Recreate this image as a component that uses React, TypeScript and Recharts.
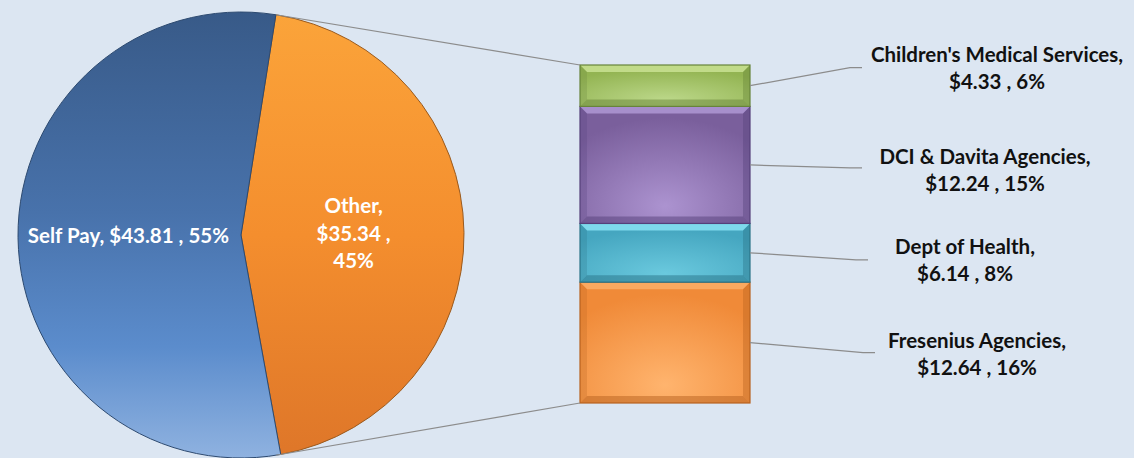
import React from 'react';
import { PieChart, Pie, Cell, BarChart, Bar, XAxis, YAxis } from 'recharts';

// ---------- data ----------
const pieNames = ['Other', 'Self Pay'];
const pieValues = [35.34, 43.81];
const piePercents = ['45%', '55%'];

const barNames = ['Fresenius Agencies', 'Dept of Health', 'DCI & Davita Agencies', "Children's Medical Services"];
const barValues = [12.64, 6.14, 12.24, 4.33];
const barPercents = ['16%', '8%', '15%', '6%'];

// ---------- layout / style ----------
const W = 1134;
const H = 458;
const BG = '#dce6f2';
const FONT = 'Lato, "Liberation Sans", sans-serif';
const FS = 20.5;
const PIE_CX = 241;
const PIE_CY = 235;
const PIE_R = 223;
const PIE_START = 81;

const barColors = [
  { base: '#f08a38', light: '#fdb06a', dark: '#b8621f', hi: '#ffb46e' },
  { base: '#45a6c0', light: '#8ce6f6', dark: '#2a7488', hi: '#6ac9de' },
  { base: '#7a5f9c', light: '#b39bd8', dark: '#55407a', hi: '#ac93d0' },
  { base: '#93b452', light: '#cde597', dark: '#67843a', hi: '#bcd88a' },
];

// label placement relative to the right edge / vertical middle of each segment
const labelLayout = [
  { lineDx: 125, lineDy: 10, textDx: 227, textDy: -2 },
  { lineDx: 118, lineDy: 7, textDx: 215, textDy: -6 },
  { lineDx: 112, lineDy: 3, textDx: 235, textDy: -8 },
  { lineDx: 112, lineDy: -18, textDx: 247, textDy: -31 },
];

const pieData = pieNames.map((name, i) => ({ name, value: pieValues[i], pct: piePercents[i] }));
const barRow: Record<string, any> = { cat: 'Other' };
barNames.forEach((_, i) => (barRow['s' + i] = barValues[i]));
const barData = [barRow];
const barTotal = barValues.reduce((a, b) => a + b, 0);

const RAD = Math.PI / 180;
const pieEdge = (angleDeg: number) => ({
  x: PIE_CX + PIE_R * Math.cos(angleDeg * RAD),
  y: PIE_CY - PIE_R * Math.sin(angleDeg * RAD),
});

const renderPieLabel = (props: any) => {
  const { cx, cy, midAngle, outerRadius, index } = props;
  const d = pieData[index];
  const r = outerRadius * 0.505;
  const x = cx + r * Math.cos(-midAngle * RAD);
  const y = cy + r * Math.sin(-midAngle * RAD);
  const lines = d.name === 'Other'
    ? [`${d.name},`, `$${d.value} ,`, d.pct]
    : [`${d.name}, $${d.value} , ${d.pct}`];
  const lh = 27.5;
  const y0 = y - ((lines.length - 1) * lh) / 2 + 7;
  return (
    <text key={'pl' + index} x={x} y={y0} textAnchor="middle" fill="#ffffff" fontFamily={FONT}
      fontWeight={700} fontSize={FS}>
      {lines.map((l, k) => (
        <tspan key={k} x={x} y={y0 + k * lh}>{l}</tspan>
      ))}
    </text>
  );
};

const makeBarShape = (i: number) => (props: any) => {
  const { x, y, width, height } = props;
  const c = barColors[i];
  const b = 7;
  return (
    <g>
      <rect x={x} y={y} width={width} height={height} fill={`url(#barFill${i})`} />
      <polygon points={`${x},${y} ${x + width},${y} ${x + width - b},${y + b} ${x + b},${y + b}`} fill={c.light} opacity={0.8} />
      <polygon points={`${x},${y + height} ${x + width},${y + height} ${x + width - b},${y + height - b} ${x + b},${y + height - b}`} fill={c.dark} opacity={0.5} />
      <polygon points={`${x},${y} ${x + b},${y + b} ${x + b},${y + height - b} ${x},${y + height}`} fill={c.dark} opacity={0.25} />
      <polygon points={`${x + width},${y} ${x + width - b},${y + b} ${x + width - b},${y + height - b} ${x + width},${y + height}`} fill={c.dark} opacity={0.4} />
      <rect x={x} y={y} width={width} height={height} fill="none" stroke={c.dark} strokeWidth={1.2} />
    </g>
  );
};

const makeBarLabel = (i: number) => (props: any) => {
  const { x, y, width, height } = props;
  const L = labelLayout[i];
  const sx = x + width;
  const sy = y + height / 2;
  const ex = sx + L.lineDx;
  const ey = sy + L.lineDy;
  const tx = sx + L.textDx;
  const ty = sy + L.textDy + 7;
  const lines = [`${barNames[i]},`, `$${barValues[i]} , ${barPercents[i]}`];
  const pieTop = pieEdge(PIE_START);
  const pieBottom = pieEdge(-PIE_START);
  return (
    <g key={'bl' + i}>
      <polyline points={`${sx},${sy} ${ex - 12},${ey} ${ex},${ey}`} fill="none" stroke="#8c8c8c" strokeWidth={1.2} />
      {i === barNames.length - 1 && (
        <line x1={pieTop.x} y1={pieTop.y} x2={x} y2={y} stroke="#8c8c8c" strokeWidth={1.2} />
      )}
      {i === 0 && (
        <line x1={pieBottom.x} y1={pieBottom.y} x2={x} y2={y + height} stroke="#8c8c8c" strokeWidth={1.2} />
      )}
      <text x={tx} y={ty} textAnchor="middle" fill="#111111" fontFamily={FONT} fontWeight={700} fontSize={FS}>
        {lines.map((l, k) => (
          <tspan key={k} x={tx} y={ty + k * 27}>{l}</tspan>
        ))}
      </text>
    </g>
  );
};

export default function App() {
  return (
    <div style={{ position: 'absolute', left: 0, top: 0, width: W, height: H, background: BG, overflow: 'hidden' }}>
      <div style={{ position: 'absolute', left: 0, top: 0 }}>
        <PieChart width={W} height={H} margin={{ top: 0, right: 0, bottom: 0, left: 0 }}>
          <defs>
            <linearGradient id="pieBlue" x1="0" y1={PIE_CY - PIE_R} x2="0" y2={PIE_CY + PIE_R} gradientUnits="userSpaceOnUse">
              <stop offset="0" stopColor="#385a88" />
              <stop offset="0.45" stopColor="#4872ab" />
              <stop offset="0.75" stopColor="#5b8ccc" />
              <stop offset="1" stopColor="#8fb2e0" />
            </linearGradient>
            <linearGradient id="pieOrange" x1="0" y1={PIE_CY - PIE_R} x2="0" y2={PIE_CY + PIE_R} gradientUnits="userSpaceOnUse">
              <stop offset="0" stopColor="#fba43a" />
              <stop offset="0.5" stopColor="#f48e2e" />
              <stop offset="1" stopColor="#de7629" />
            </linearGradient>
          </defs>
          <Pie
            data={pieData}
            dataKey="value"
            nameKey="name"
            cx={PIE_CX}
            cy={PIE_CY}
            outerRadius={PIE_R}
            startAngle={PIE_START}
            endAngle={PIE_START - 360}
            isAnimationActive={false}
            labelLine={false}
            label={renderPieLabel}
            stroke="#3d3d3d"
            strokeWidth={1}
          >
            <Cell fill="url(#pieOrange)" stroke="#9a5a1e" />
            <Cell fill="url(#pieBlue)" stroke="#2d4a70" />
          </Pie>
        </PieChart>
      </div>
      <div style={{ position: 'absolute', left: 0, top: 0 }}>
        <BarChart width={W} height={H} data={barData} barCategoryGap={0}
          margin={{ top: 65, right: W - 750, bottom: H - 403, left: 580 }}>
          <defs>
            {barColors.map((c, i) => (
              <radialGradient key={i} id={`barFill${i}`} cx="0.5" cy="0.85" r="0.75">
                <stop offset="0" stopColor={c.hi} />
                <stop offset="1" stopColor={c.base} />
              </radialGradient>
            ))}
          </defs>
          <XAxis dataKey="cat" hide />
          <YAxis hide domain={[0, barTotal]} />
          {barNames.map((n, i) => (
            <Bar key={n} dataKey={'s' + i} stackId="a" isAnimationActive={false}
              shape={makeBarShape(i)} label={makeBarLabel(i)} />
          ))}
        </BarChart>
      </div>
    </div>
  );
}
